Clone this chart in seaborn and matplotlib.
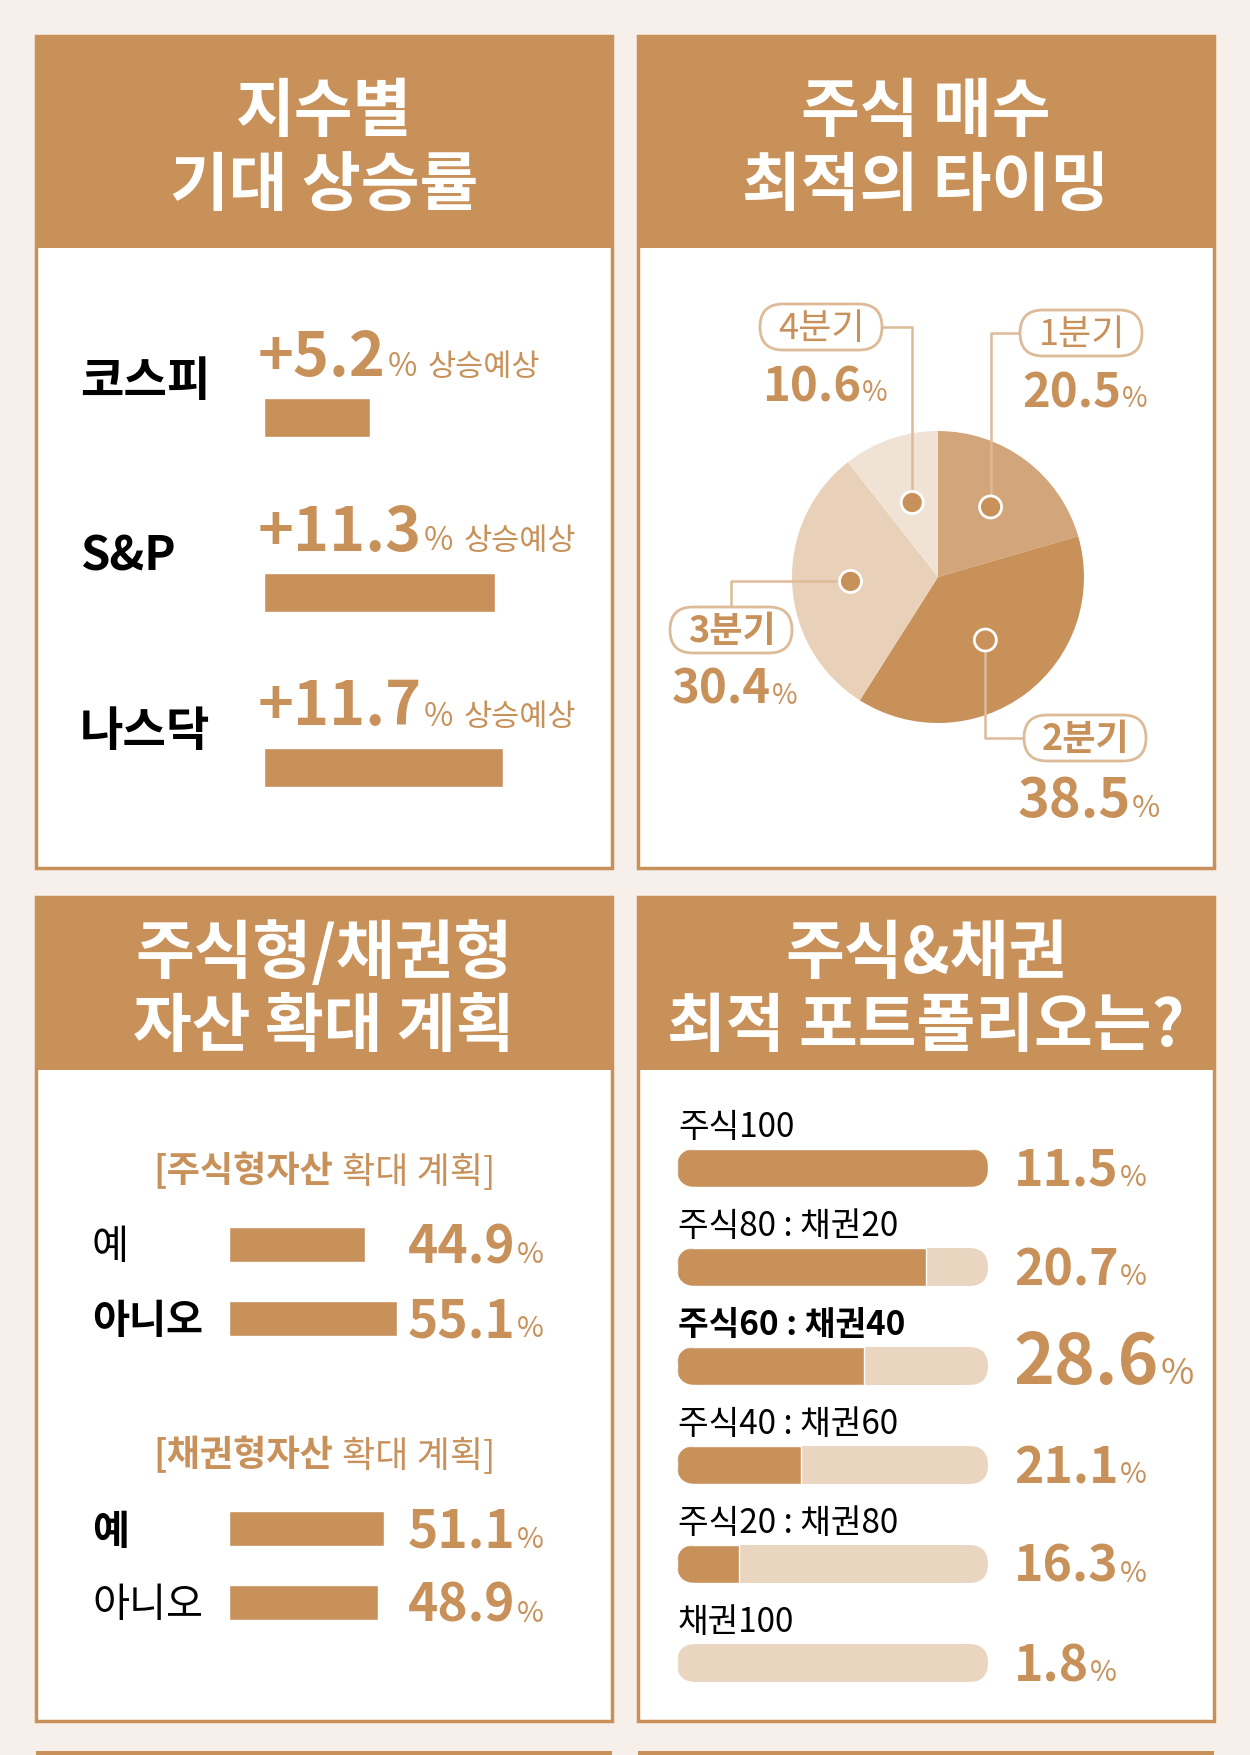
import numpy as np
import seaborn as sns
import matplotlib.pyplot as plt
from matplotlib.patches import Rectangle, FancyBboxPatch, Circle

sns.set_style("white")
plt.rcParams['font.family'] = ['Noto Sans CJK KR', 'DejaVu Sans']

# %% data
index_names = ['코스피', 'S&P', '나스닥']
index_growth = [5.2, 11.3, 11.7]

timing_labels = ['1분기', '2분기', '3분기', '4분기']
timing_share = [20.5, 38.5, 30.4, 10.6]

plan_answers = ['예', '아니오']
stock_plan_share = [44.9, 55.1]
bond_plan_share = [51.1, 48.9]

portfolio_labels = ['주식100', '주식80 : 채권20', '주식60 : 채권40',
                    '주식40 : 채권60', '주식20 : 채권80', '채권100']
portfolio_stock = [100, 80, 60, 40, 20, 0]
portfolio_bond = [0, 20, 40, 60, 80, 100]
portfolio_share = [11.5, 20.7, 28.6, 21.1, 16.3, 1.8]

# %% colours
BG = '#F7F0EA'
BROWN = '#C8915A'
LIGHT = '#E9D5C0'
LINE = '#DDBB98'
PIE_COLORS = ['#D2A67A', '#C8915A', '#E8D1B8', '#F0E3D6']

W, H = 1250, 1755
fig = plt.figure(figsize=(W / 100, H / 100), dpi=100, facecolor=BG)
back = fig.add_axes([0, 0, 1, 1], zorder=0)
front = fig.add_axes([0, 0, 1, 1], zorder=10)
for a in (back, front):
    a.set_xlim(0, W)
    a.set_ylim(H, 0)
    a.axis('off')
renderer = fig.canvas.get_renderer()


def px_axes(x0, y0, x1, y1):
    return fig.add_axes([x0 / W, 1 - y1 / H, (x1 - x0) / W, (y1 - y0) / H], zorder=5)


def to_px(ax, x, y):
    X, Y = ax.transData.transform((x, y))
    return X, H - Y


def write(x, y, parts, ha='left'):
    # parts: (text, size, weight, color, gap after)
    items = []
    cx = x
    for s, size, weight, color, gap in parts:
        t = front.text(cx, y, s, fontsize=size, fontweight=weight, color=color,
                       va='baseline', ha='left')
        cx += t.get_window_extent(renderer).width + gap
        items.append(t)
    if ha == 'center':
        shift = (cx - x) / 2
        for t in items:
            t.set_x(t.get_position()[0] - shift)


# %% panels and headers
panels = [(36, 612, 36, 248, 868, ['지수별', '기대 상승률']),
          (638, 1214, 36, 248, 868, ['주식 매수', '최적의 타이밍']),
          (36, 612, 897, 1070, 1721, ['주식형/채권형', '자산 확대 계획']),
          (638, 1214, 897, 1070, 1721, ['주식&채권', '최적 포트폴리오는?'])]
for x0, x1, y0, yh, y1, title in panels:
    back.add_patch(Rectangle((x0, y0), x1 - x0, y1 - y0, fc='white', ec=BROWN, lw=2.5))
    back.add_patch(Rectangle((x0, y0), x1 - x0, yh - y0, fc=BROWN, ec='none'))
    hc = (y0 + yh) / 2
    for k, line in enumerate(title):
        front.text((x0 + x1) / 2, hc - 11 + 74 * k, line, fontsize=46,
                   fontweight='black', color='white', ha='center', va='baseline')
for x0, x1 in [(36, 612), (638, 1214)]:
    back.add_patch(Rectangle((x0, 1751), x1 - x0, 20, fc=BROWN, ec='none'))

# %% panel 1: expected growth per index
ax1 = px_axes(264, 330, 591, 855)
sns.barplot(x=index_growth, y=index_names, orient='h', color=BROWN,
            saturation=1, width=39 / 175, ax=ax1)
ax1.set_xlim(0, 16)
ax1.set_ylim(len(index_names) - 0.5, -0.5)
ax1.axis('off')
for i, (name, v) in enumerate(zip(index_names, index_growth)):
    _, yc = to_px(ax1, 0, i)
    front.text(80, yc - 22, name, fontsize=34, fontweight='black', color='black',
               va='baseline')
    write(258, yc - 42, [(f'+{v}', 44, 'bold', BROWN, 2),
                         ('%', 23, 'normal', BROWN, 10),
                         ('상승예상', 22, 'normal', BROWN, 0)])

# %% panel 2: pie of best timing
R, pcx, pcy = 146, 938, 577
axp = px_axes(pcx - R, pcy - R, pcx + R, pcy + R)
wedges, _ = axp.pie(timing_share, colors=PIE_COLORS, startangle=90,
                    counterclock=False, radius=1, wedgeprops=dict(linewidth=0))
axp.set_xlim(-1, 1)
axp.set_ylim(-1, 1)
axp.set_aspect('equal')

# label box centre and leader route for each quarter
pie_boxes = {'1분기': (1081, 333, 'vh'), '2분기': (1085, 738, 'vh'),
             '3분기': (731, 630, 'hv'), '4분기': (821, 327, 'vh')}
dot_radius = [0.6, 0.54, 0.6, 0.54]
top_two = sorted(timing_share)[-2]
for i, lab in enumerate(timing_labels):
    w = wedges[i]
    mid = np.deg2rad((w.theta1 + w.theta2) / 2)
    dx, dy = to_px(axp, dot_radius[i] * np.cos(mid), dot_radius[i] * np.sin(mid))
    bx, by, route = pie_boxes[lab]
    if route == 'vh':
        edge = bx - 61 if bx > dx else bx + 61
        xs, ys = [dx, dx, edge], [dy, by, by]
    else:
        edge = by - 23 if by > dy else by + 23
        xs, ys = [dx, bx, bx], [dy, dy, edge]
    front.plot(xs, ys, color=LINE, lw=1.8, zorder=2)
    front.add_patch(Circle((dx, dy), 11, fc=BROWN, ec='white', lw=2, zorder=3))
    front.add_patch(FancyBboxPatch((bx - 61, by - 23), 122, 46,
                                   boxstyle='round,pad=0,rounding_size=23',
                                   fc='white', ec=LINE, lw=2, zorder=3))
    v = timing_share[i]
    big = v == max(timing_share)
    front.text(bx + 1, by + 12, lab, fontsize=26, color=BROWN, ha='center', va='baseline',
               fontweight='bold' if v >= top_two else 'normal', zorder=4)
    write(bx + 4, by + (79 if big else 74),
          [(f'{v}', 39 if big else 34, 'bold', BROWN, 1),
           ('%', 22 if big else 20, 'normal', BROWN, 0)], ha='center')

# %% panel 3: plans to expand stock / bond assets
groups = [('주식형자산', stock_plan_share, 1244), ('채권형자산', bond_plan_share, 1528.5)]
for kind, share, first in groups:
    ax = px_axes(229, first - 37, 229 + 60 * 3.04, first + 74 + 37)
    sns.barplot(x=share, y=plan_answers, orient='h', color=BROWN,
                saturation=1, width=35 / 74, ax=ax)
    ax.set_xlim(0, 60)
    ax.set_ylim(len(plan_answers) - 0.5, -0.5)
    ax.axis('off')
    write(324, first - 62, [('[' + kind, 26, 'bold', BROWN, 9),
                            ('확대 계획]', 26, 'normal', BROWN, 0)], ha='center')
    for i, (ans, v) in enumerate(zip(plan_answers, share)):
        _, yc = to_px(ax, 0, i)
        front.text(92, yc + 15, ans, fontsize=29, color='black', va='baseline',
                   fontweight='black' if v == max(share) else 'normal')
        write(408, yc + 19, [(f'{v}', 37, 'bold', BROWN, 1),
                             ('%', 21, 'normal', BROWN, 0)])

# %% panel 4: best stock/bond portfolio
ax4 = px_axes(677, 1118.5, 988, 1712.5)
total = [s + b for s, b in zip(portfolio_stock, portfolio_bond)]
sns.barplot(x=total, y=portfolio_labels, orient='h', color=LIGHT,
            saturation=1, width=38 / 99, ax=ax4)
sns.barplot(x=portfolio_stock, y=portfolio_labels, orient='h', color=BROWN,
            saturation=1, width=38 / 99, ax=ax4)
ax4.set_xlim(0, 100)
ax4.set_ylim(len(portfolio_labels) - 0.5, -0.5)
ax4.axis('off')

# round the track ends and clip the stock part to the rounded track
n = len(portfolio_labels)
sx = 311 / 100.0
sy = 594 / n
tracks = ax4.patches[:n]
stocks = ax4.patches[n:2 * n]
for tr, st in zip(tracks, stocks):
    h = tr.get_height()
    r = (h * sy / 2) / sx
    fb = FancyBboxPatch((tr.get_x(), tr.get_y()), tr.get_width(), h,
                        boxstyle=f'round,pad=0,rounding_size={r}',
                        mutation_aspect=sx / sy, fc=LIGHT, ec='none', zorder=0.5)
    ax4.add_patch(fb)
    tr.set_visible(False)
    st.set_clip_path(fb)

best = max(portfolio_share)
for i, (lab, v) in enumerate(zip(portfolio_labels, portfolio_share)):
    _, yc = to_px(ax4, 0, i)
    top = v == best
    front.text(678, yc - 31, lab, fontsize=24, color='black', va='baseline',
               fontweight='black' if top else 'normal')
    write(1014, yc + 18, [(f'{v}', 50 if top else 36, 'bold', BROWN, 1),
                          ('%', 26 if top else 21, 'normal', BROWN, 0)])

fig.savefig('out.png', dpi=100, facecolor=BG)
